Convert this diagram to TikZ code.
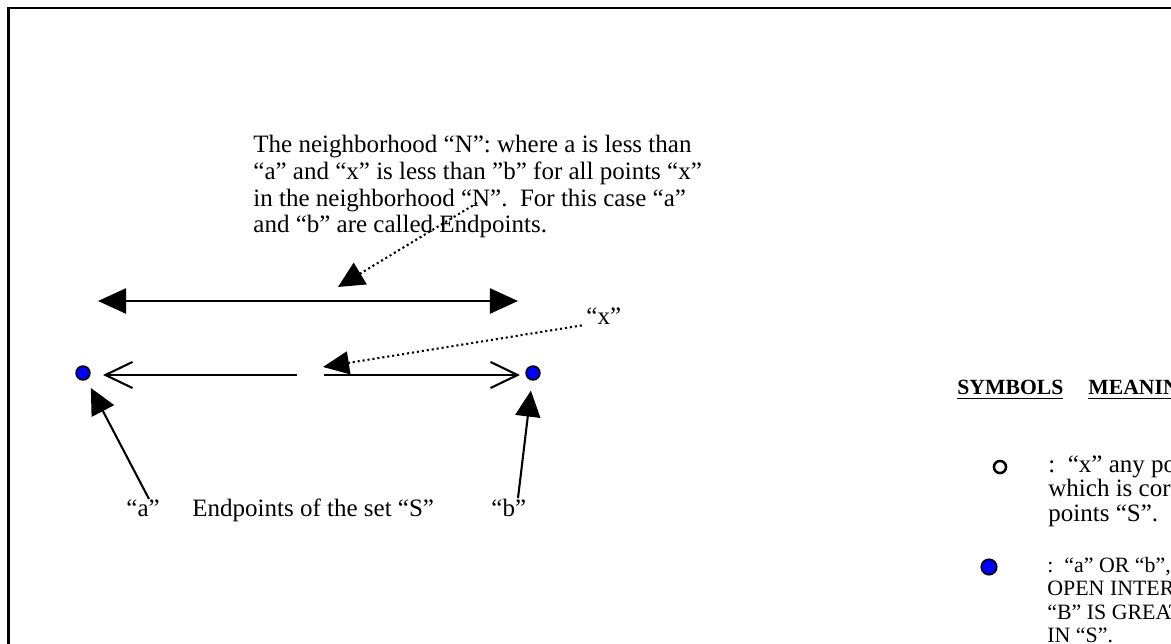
\documentclass[tikz,border=0pt]{standalone}
\usepackage{fontspec}
\setmainfont{Liberation Serif}
\usetikzlibrary{arrows.meta}
\tikzset{
  fat/.style={-{Triangle[length=12.5pt,width=12pt]}, line width=1pt},
  barb/.style={-{Straight Barb[length=13pt,width=12.5pt]}, line width=1pt},
  dotline/.style={line width=1pt, dash pattern=on 1pt off 1.4pt},
  endpt/.style={circle, draw=black, fill=blue, line width=0.8pt, inner sep=0pt, minimum size=6.6pt},
  txt/.style={font=\fontsize{12}{12.8}\selectfont, inner sep=0pt, align=left},
  lbl/.style={font=\fontsize{12}{12.8}\selectfont, inner sep=0pt},
  hdr/.style={font=\bfseries\fontsize{10.4}{12}\selectfont, inner sep=0pt}
}
\begin{document}
\begin{tikzpicture}[x=0.48pt,y=-0.48pt]
  \useasboundingbox (0,0) rectangle (1171,644);
  \clip (0,0) rectangle (1171,644);
  \draw[line width=1.2pt] (8.5,8) rectangle (1250,700);
  % the neighborhood N
  \node[txt, anchor=north west] (nbhd) at (253,135) {The neighborhood “N”: where a is less than\\
    “a” and “x” is less than ”b” for all points “x”\\
    in the neighborhood “N”.\ \ For this case “a”\\
    and “b” are called Endpoints.};
  \coordinate (nFrom) at (477,203);
  \coordinate (nTo) at (338,287);
  \coordinate (nL) at (98,301);
  \coordinate (nR) at (518,301);
  \draw[line width=1.3pt, {Triangle[length=13.5pt,width=12pt]}-{Triangle[length=13.5pt,width=12pt]}] (nL) -- (nR);
  \draw[dotline, -{Triangle[length=12.5pt,width=12pt]}] (nFrom) -- (nTo);
  % the set S with its endpoints
  \node[endpt] (dotA) at (83,373) {};
  \node[endpt] (dotB) at (533,373) {};
  \coordinate (tipL) at (103,375);
  \coordinate (tipR) at (520,375);
  \coordinate (gapL) at (297,375);
  \coordinate (gapR) at (324,375);
  \draw[barb] (gapL) -- (tipL);
  \draw[barb] (gapR) -- (tipR);
  \node[lbl, anchor=base west] (labX) at (586,325) {“x”};
  \coordinate (xTo) at (323,367);
  \draw[dotline, -{Triangle[length=12.5pt,width=11pt]}] ([xshift=-2pt]labX.south west) -- (xTo);
  \node[lbl, anchor=base west] (labA) at (126,517) {“a”};
  \node[lbl, anchor=base west] (labS) at (192,517) {Endpoints of the set “S”};
  \node[lbl, anchor=base west] (labB) at (491,517) {“b”};
  \coordinate (tailA) at (149,499);
  \coordinate (tailB) at (518,498);
  \draw[fat, shorten >=4.4pt] (tailA) -- (dotA);
  \draw[fat, shorten >=4.8pt] (tailB) -- (dotB);
  % legend
  \node[hdr, anchor=base west] (symb) at (957,395) {\underline{SYMBOLS}};
  \node[hdr, anchor=base west] (mean) at (1088,395) {\underline{MEANING}};
  \node[circle, draw=black, line width=1.2pt, inner sep=0pt, minimum size=5.8pt] (symX) at (1000,467) {};
  \node[txt, font=\fontsize{12}{11.86}\selectfont, anchor=north west] (meanX) at (1048,455) {:\ \ “x” any po\\
    which is cor\\
    points “S”.};
  \node[endpt, minimum size=7.4pt] (symA) at (989,567) {};
  \node[txt, font=\fontsize{10.5}{11.2}\selectfont, anchor=north west] (meanA) at (1047,557) {:\ \ “a” OR “b”,\\
    OPEN INTER\\
    “B” IS GREAT\\
    IN “S”.};
\end{tikzpicture}
\end{document}
